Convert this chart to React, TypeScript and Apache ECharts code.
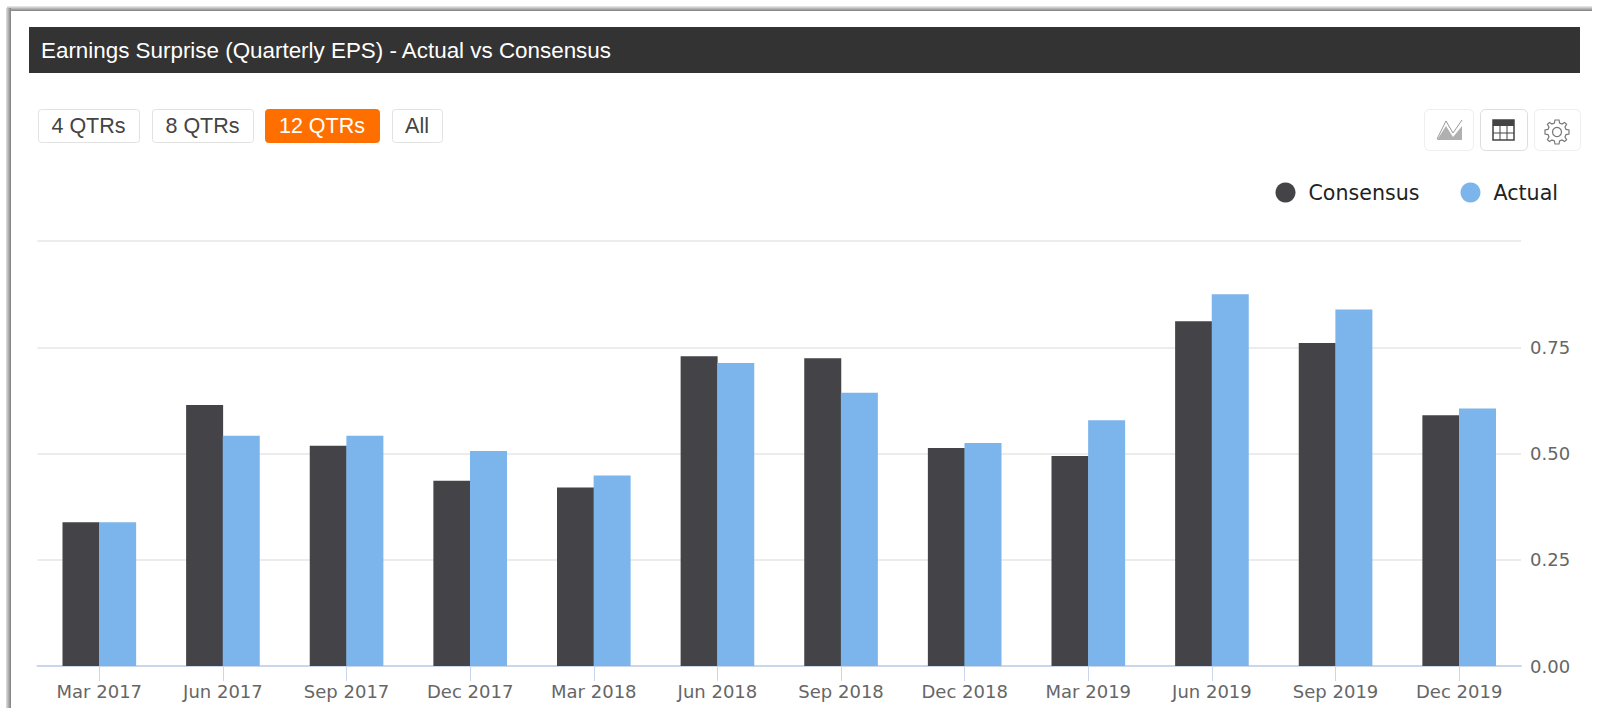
import React, { useEffect, useRef } from "react";
import * as echarts from "echarts";

const categories = ["Mar 2017","Jun 2017","Sep 2017","Dec 2017","Mar 2018","Jun 2018","Sep 2018","Dec 2018","Mar 2019","Jun 2019","Sep 2019","Dec 2019"];
const consensus = [0.338,0.614,0.518,0.436,0.42,0.729,0.724,0.513,0.494,0.811,0.76,0.59];
const actual = [0.338,0.542,0.542,0.506,0.448,0.713,0.643,0.525,0.578,0.875,0.839,0.606];
const titleText = "Earnings Surprise (Quarterly EPS) - Actual vs Consensus";
const ranges = ["4 QTRs","8 QTRs","12 QTRs","All"];
const rangeBoxes = [[38,101],[152,101],[265,114],[392,50]];

const FONT = "'DejaVu Sans', sans-serif";
const gear = "M10 0 L14 0 L14.6 3 L17 4 L19.6 2.4 L21.6 4.4 L20 7 L21 9.4 L24 10 L24 14 L21 14.6 L20 17 L21.6 19.6 L19.6 21.6 L17 20 L14.6 21 L14 24 L10 24 L9.4 21 L7 20 L4.4 21.6 L2.4 19.6 L4 17 L3 14.6 L0 14 L0 10 L3 9.4 L4 7 L2.4 4.4 L4.4 2.4 L7 4 L9.4 3 Z";
echarts.graphic.registerShape("gearIcon", echarts.graphic.extendPath(gear, {}));

export default function App() {
  const ref = useRef<HTMLDivElement>(null);
  useEffect(() => {
    document.body.style.margin = "0";
    const chart = echarts.init(ref.current!, null, { renderer: "svg" });
    const bandTop = new echarts.graphic.LinearGradient(0, 0, 0, 1, [{ offset: 0, color: "#efefef" }, { offset: 1, color: "#7f7f7f" }]);
    const bandLeft = new echarts.graphic.LinearGradient(0, 0, 1, 0, [{ offset: 0, color: "#e0e0e0" }, { offset: 1, color: "#7f7f7f" }]);
    const graphic: any[] = [
      { type: "rect", z: 0, shape: { x: 7, y: 6, width: 1585, height: 5 }, style: { fill: bandTop } },
      { type: "rect", z: 0, shape: { x: 6, y: 8, width: 5, height: 700 }, style: { fill: bandLeft } },
      { type: "rect", z: 0, shape: { x: 29, y: 27, width: 1551, height: 46 }, style: { fill: "#333333" } },
      { type: "text", z: 2, x: 41, y: 50.5, style: { text: titleText, fill: "#ffffff", font: "22.4px 'Liberation Sans'", textVerticalAlign: "middle" } },
    ];
    ranges.forEach((r, i) => {
      const [x, w] = rangeBoxes[i];
      const on = i === 2;
      graphic.push({ type: "rect", z: 1, shape: { x: x + 0.5, y: 109.5, width: w, height: 33, r: 3 }, style: { fill: on ? "#ff6f00" : "#ffffff", stroke: on ? "#ff6f00" : "#e2e2e2" } });
      graphic.push({ type: "text", z: 2, x: x + w / 2, y: 126, style: { text: r, fill: on ? "#ffffff" : "#444444", font: "21.5px 'Liberation Sans'", textAlign: "center", textVerticalAlign: "middle" } });
    });
    [[1424,49],[1480,47],[1534,46]].forEach(([x, w], i) => {
      graphic.push({ type: "rect", z: 1, shape: { x: x + 0.5, y: 109.5, width: w, height: 41, r: 5 }, style: { fill: "#fff", stroke: i === 1 ? "#dddddd" : "#eeeeee" } });
    });
    graphic.push({ type: "polygon", z: 2, shape: { points: [[1437,140],[1446,126],[1453,137],[1462,126],[1462,140]] }, style: { fill: "#b0b0b0" } });
    graphic.push({ type: "polyline", z: 2, shape: { points: [[1437,139],[1446,121],[1453,133],[1462,120]] }, style: { stroke: "#999999", fill: "none", lineWidth: 1 } });
    graphic.push({ type: "rect", z: 2, shape: { x: 1493, y: 120, width: 21, height: 20 }, style: { fill: "#fff", stroke: "#444444", lineWidth: 1.5 } });
    graphic.push({ type: "rect", z: 2, shape: { x: 1493, y: 120, width: 21, height: 6 }, style: { fill: "#444444" } });
    graphic.push({ type: "line", z: 2, shape: { x1: 1500, y1: 125, x2: 1500, y2: 140 }, style: { stroke: "#444444" } });
    graphic.push({ type: "line", z: 2, shape: { x1: 1507, y1: 125, x2: 1507, y2: 140 }, style: { stroke: "#444444" } });
    graphic.push({ type: "line", z: 2, shape: { x1: 1493, y1: 133, x2: 1514, y2: 133 }, style: { stroke: "#444444" } });
    graphic.push({ type: "gearIcon", z: 2, x: 1545, y: 120, style: { fill: "#fff", stroke: "#777777", lineWidth: 1.2 } });
    graphic.push({ type: "circle", z: 3, shape: { cx: 1557, cy: 132, r: 4.5 }, style: { fill: "#fff", stroke: "#777777", lineWidth: 1.2 } });

    chart.setOption({
      animation: false,
      backgroundColor: "#ffffff",
      color: ["#434348", "#7cb5ec"],
      graphic,
      legend: {
        top: 177, right: 37, icon: "circle", itemWidth: 20, itemHeight: 20, itemGap: 41,
        textStyle: { fontFamily: FONT, fontSize: 20.6, color: "#222222", padding: [0, 0, 0, 8] },
        data: ["Consensus", "Actual"],
      },
      grid: { left: 37.5, right: 79, top: 241, bottom: 50 },
      xAxis: {
        type: "category", data: categories,
        axisLine: { lineStyle: { color: "#ccd6eb", width: 2 } },
        axisTick: { show: true, alignWithLabel: true, length: 15, lineStyle: { color: "#ccd6eb" } },
        axisLabel: { fontFamily: FONT, fontSize: 18, color: "#666666", margin: 16, interval: 0 },
      },
      yAxis: {
        type: "value", position: "right", min: 0, max: 1, interval: 0.25,
        axisLine: { show: false }, axisTick: { show: false },
        splitLine: { lineStyle: { color: "#ececec", width: 2 } },
        axisLabel: { fontFamily: FONT, fontSize: 18, color: "#666666", margin: 9, padding: [6, 0, 0, 0], showMaxLabel: false, formatter: (v: number) => v.toFixed(2) },
      },
      series: [
        { name: "Consensus", type: "bar", data: consensus, barWidth: 37, barGap: "-1%" },
        { name: "Actual", type: "bar", data: actual, barWidth: 37, barGap: "-1%" },
      ],
    });
    return () => chart.dispose();
  }, []);
  return <div ref={ref} style={{ width: 1600, height: 716 }} />;
}
